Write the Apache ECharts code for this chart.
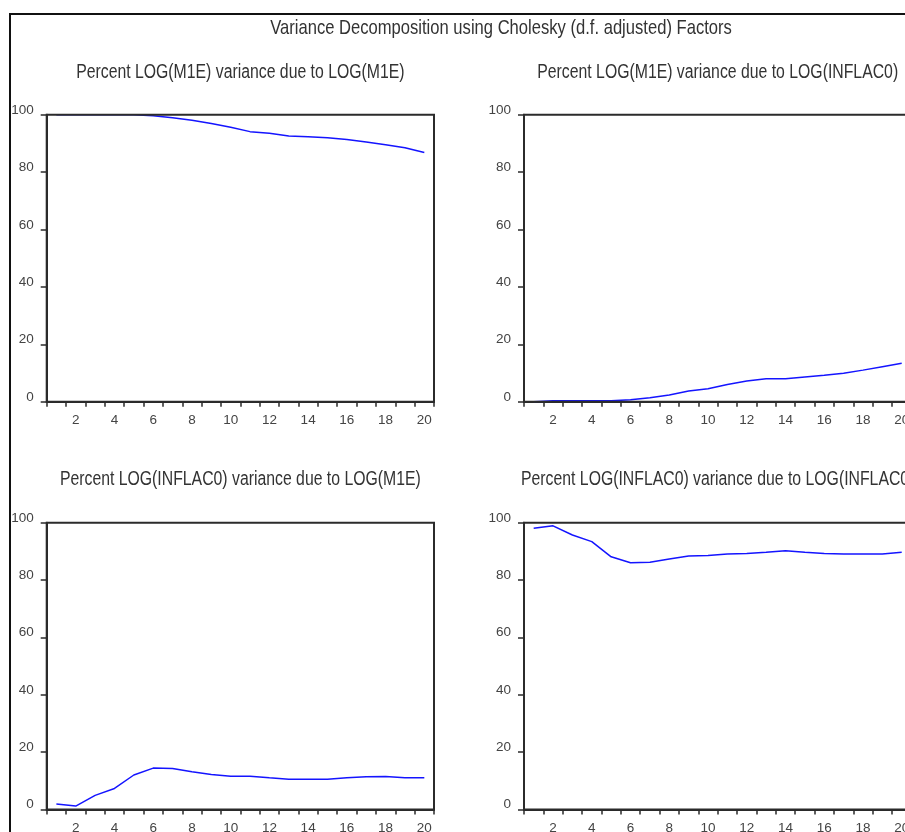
<!DOCTYPE html>
<html>
<head>
<meta charset="utf-8">
<title>Variance Decomposition</title>
<script src="https://cdn.jsdelivr.net/npm/echarts@6/dist/echarts.min.js"></script>
<style>
  html, body { margin: 0; padding: 0; background: #ffffff; }
  #chart { width: 905px; height: 832px; }
</style>
</head>
<body>
<div id="chart"></div>
<script>
// Forecast horizon (periods)
const periods = ['1','2','3','4','5','6','7','8','9','10','11','12','13','14','15','16','17','18','19','20'];

// Percent of LOG(M1E) forecast variance due to LOG(M1E)
const m1eDueM1e = [100, 100, 100, 100, 100, 99.65, 98.95, 98.1, 96.97, 95.6, 94.1, 93.5, 92.6, 92.3, 92.0, 91.4, 90.5, 89.5, 88.5, 86.8];
// Percent of LOG(M1E) forecast variance due to LOG(INFLAC0)
const m1eDueInflac = [0, 0.35, 0.35, 0.35, 0.35, 0.7, 1.4, 2.3, 3.7, 4.5, 6.0, 7.2, 8.0, 8.0, 8.6, 9.2, 9.9, 11.0, 12.2, 13.4];
// Percent of LOG(INFLAC0) forecast variance due to LOG(M1E)
const inflacDueM1e = [1.86, 1.16, 4.9, 7.3, 12.0, 14.4, 14.3, 13.1, 12.2, 11.6, 11.6, 11.0, 10.5, 10.5, 10.5, 11.0, 11.4, 11.5, 11.0, 11.0];
// Percent of LOG(INFLAC0) forecast variance due to LOG(INFLAC0)
const inflacDueInflac = [98.1, 98.9, 95.7, 93.4, 88.1, 86.0, 86.2, 87.3, 88.4, 88.6, 89.1, 89.3, 89.7, 90.2, 89.7, 89.3, 89.1, 89.1, 89.1, 89.7];

const mainTitle = 'Variance Decomposition using Cholesky (d.f. adjusted) Factors';
const panelTitles = [
  'Percent LOG(M1E) variance due to LOG(M1E)',
  'Percent LOG(M1E) variance due to LOG(INFLAC0)',
  'Percent LOG(INFLAC0) variance due to LOG(M1E)',
  'Percent LOG(INFLAC0) variance due to LOG(INFLAC0)'
];
const panelSeries = [m1eDueM1e, m1eDueInflac, inflacDueM1e, inflacDueInflac];

// Plot-area boxes of the 2x2 panels (right column runs past the canvas edge)
const panelBoxes = [
  { left: 46.7, top: 114.7, width: 387.3, height: 287 },
  { left: 524,  top: 114.7, width: 387.4, height: 287 },
  { left: 46.7, top: 522.7, width: 387.3, height: 286.7 },
  { left: 524,  top: 522.7, width: 387.4, height: 286.7 }
];
const subtitleY = [72, 72, 479.5, 479.5];

const FONT = '"Liberation Sans", Arial, sans-serif';
const frameColor = '#2b2b2b';
const labelColor = '#444444';

const grids = [], xAxes = [], yAxes = [], series = [], graphics = [];

panelBoxes.forEach(function (b, i) {
  grids.push({
    left: b.left, top: b.top, width: b.width, height: b.height,
    outerBoundsMode: 'none',
    show: true, borderColor: frameColor, borderWidth: 2, z: 3,
    backgroundColor: 'transparent', containLabel: false
  });
  xAxes.push({
    gridIndex: i, type: 'category', data: periods, boundaryGap: true,
    axisLine: { show: true, lineStyle: { color: frameColor, width: 2 } },
    axisTick: { show: true, interval: 0, length: 5, inside: false,
                lineStyle: { color: frameColor, width: 1.5 } },
    axisLabel: {
      interval: function (idx) { return idx % 2 === 1; },
      margin: 12, fontSize: 13.5, color: labelColor, fontFamily: FONT,
      hideOverlap: false
    },
    splitLine: { show: false }
  });
  yAxes.push({
    gridIndex: i, type: 'value', min: 0, max: 100, interval: 20,
    axisLine: { show: true, lineStyle: { color: frameColor, width: 2 } },
    axisTick: { show: true, length: 6, lineStyle: { color: frameColor, width: 1.5 } },
    // labels sit just above their tick marks
    axisLabel: { margin: 13, fontSize: 13.5, color: labelColor, fontFamily: FONT,
                 verticalAlign: 'bottom', lineHeight: 9.4 },
    splitLine: { show: false }
  });
  series.push({
    type: 'line', xAxisIndex: i, yAxisIndex: i, data: panelSeries[i],
    showSymbol: false, symbol: 'none', smooth: false, z: 1,
    lineStyle: { color: '#1414ff', width: 1.5 },
    animation: false
  });
  graphics.push({
    type: 'text', x: b.left + b.width / 2, y: subtitleY[i], scaleX: 0.79,
    style: { text: panelTitles[i], font: '20px ' + FONT, fill: '#333333',
             textAlign: 'center', textVerticalAlign: 'middle' }
  });
});

// Main heading
graphics.push({
  type: 'text', x: 501, y: 28.5, scaleX: 0.79,
  style: { text: mainTitle, font: '21px ' + FONT, fill: '#333333',
           textAlign: 'center', textVerticalAlign: 'middle' }
});
// Outer frame around the whole figure
graphics.push({
  type: 'polyline',
  shape: { points: [[10, 900], [10, 14], [1000, 14]] },
  style: { stroke: '#111111', lineWidth: 2, fill: null }
});

const chart = echarts.init(document.getElementById('chart'), null, { renderer: 'canvas' });
chart.setOption({
  animation: false,
  backgroundColor: '#ffffff',
  grid: grids,
  xAxis: xAxes,
  yAxis: yAxes,
  series: series,
  graphic: { elements: graphics }
});
</script>
</body>
</html>
